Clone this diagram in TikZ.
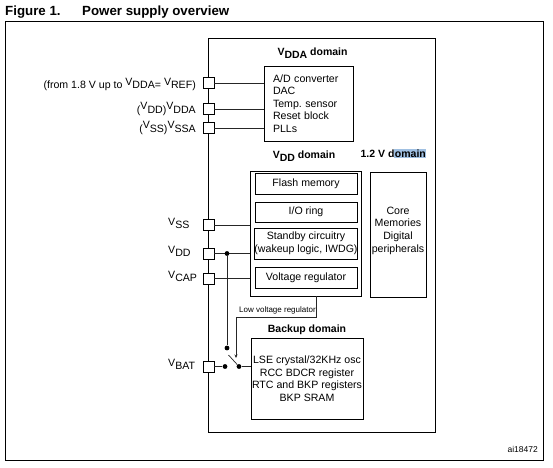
\documentclass[tikz,border=0pt]{standalone}
\usepackage{fontspec}
\setmainfont{Liberation Sans}
\usetikzlibrary{arrows.meta,calc}
\definecolor{hlblue}{RGB}{160,192,226}
\newcommand{\vsub}[1]{V\raisebox{-0.3em}{#1}}
\newcommand{\vup}[1]{\raisebox{0.3em}{V}#1}
\frenchspacing

\begin{document}
\begin{tikzpicture}[x=1pt,y=-1pt,
    blk/.style={draw, line width=0.9pt, inner sep=0pt, font=\fontsize{10.6}{12.6}\selectfont},
    pad/.style={draw, fill=white, line width=0.9pt, minimum size=11pt, inner sep=0pt},
    wire/.style={line width=0.7pt, black!85},
    dom/.style={inner sep=0pt, font=\bfseries\fontsize{10.5}{12.6}\selectfont},
    pin/.style={inner sep=0pt, font=\fontsize{10.6}{12.6}\selectfont},
    dot/.style={circle, fill, inner sep=0pt, minimum size=4.8pt}]
    \useasboundingbox (0,0) rectangle (553,467);

    % title and frame
    \node[anchor=west, inner sep=0pt, font=\bfseries\fontsize{13.3}{16}\selectfont] (fig) at (5,12) {Figure 1.};
    \node[anchor=west, inner sep=0pt, font=\bfseries\fontsize{13.3}{16}\selectfont] (title) at (82,12) {Power supply overview};
    \draw[line width=1pt] (5,21) rectangle (543,460);
    \node[anchor=east, inner sep=0pt, font=\fontsize{8.5}{10}\selectfont] (ref) at (538,449) {ai18472};

    % chip and domains
    \node[blk, minimum width=227, minimum height=394] (chip) at (321.5,235) {};
    \node[dom] (vddalbl) at (312.5,53.5) {\vsub{DDA} domain};
    \node[blk, minimum width=89, minimum height=75, text width=71, align=left] (vdda) at (308.5,103.5)
        {A/D converter\\DAC\\Temp. sensor\\Reset block\\PLLs};
    \node[dom] (vddlbl) at (304,156) {\vsub{DD} domain};
    \node[dom] (corelbl) at (393.5,153.5) {1.2 V d{\setlength{\fboxsep}{0.5pt}\colorbox{hlblue}{\vphantom{d}omain}}};
    \node[blk, minimum width=111, minimum height=125] (vddbox) at (305.5,233.5) {};
    \node[blk, minimum width=102, minimum height=21] (flash) at (306,183.5) {Flash memory};
    \node[blk, minimum width=102, minimum height=20] (ioring) at (306,212) {I/O ring};
    \node[blk, minimum width=102, minimum height=31, align=center] (standby) at (306,243.5)
        {Standby circuitry\\(wakeup logic, IWDG)};
    \node[blk, minimum width=102, minimum height=21] (vreg) at (306,277.5) {Voltage regulator};
    \node[blk, minimum width=56, minimum height=125] (core) at (398,234.5) {};
    \node[pin, align=center] (coretxt) at ([yshift=4pt]core.center) {Core\\Memories\\Digital\\peripherals};
    \node[dom] (backlbl) at (307,329.5) {Backup domain};
    \node[blk, minimum width=112, minimum height=81, align=center] (backup) at (307,378.5)
        {LSE crystal/32KHz osc\\RCC BDCR register\\RTC and BKP registers\\BKP SRAM};

    % pads
    \node[pad] (pref) at (208.5,83) {};
    \node[pad] (pdda) at (208.5,109) {};
    \node[pad] (pssa) at (208.5,128) {};
    \node[pad] (pss) at (208.5,225) {};
    \node[pad] (pdd) at (208.5,253.5) {};
    \node[pad] (pcap) at (208.5,278.5) {};
    \node[pad] (pbat) at (208.5,366.5) {};

    \node[pin, anchor=east] (lref) at (196,84.5) {(from 1.8 V up to \vup{DDA}= \vup{REF})};
    \node[pin, anchor=east] (ldda) at (196,109) {(\vup{DD})\vup{DDA}};
    \node[pin, anchor=east] (lssa) at (196,128) {(\vup{SS})\vup{SSA}};
    \node[pin, anchor=west] (lss) at (168,223) {\vup{SS}};
    \node[pin, anchor=west] (ldd) at (168,251.5) {\vup{DD}};
    \node[pin, anchor=west] (lcap) at (168,276.5) {\vup{CAP}};
    \node[pin, anchor=west] (lbat) at (168,364.5) {\vup{BAT}};

    % wiring
    \draw[wire] (pref.east) -- (pref.east -| vdda.west);
    \draw[wire] (pdda.east) -- (pdda.east -| vdda.west);
    \draw[wire] (pssa.east) -- (pssa.east -| vdda.west);
    \draw[wire] (pss.east) -- (pss.east -| vddbox.west);
    \draw[wire] (pdd.east) -- (pdd.east -| vddbox.west);
    \draw[wire] (pcap.east) -- (pcap.east -| vddbox.west);

    \node[dot] (jdd) at (227,253.5) {};
    \node[dot] (swup) at (227,348) {};
    \node[dot] (swin) at (225,366.5) {};
    \node[dot] (swout) at (239,366.5) {};
    \coordinate (blade) at (228.5,355);
    \draw[wire] (jdd) -- (swup);
    \draw[wire] (pbat.east) -- (swin);
    \draw[wire] (swout) -- (swout -| backup.west);
    \draw[wire] (swout) -- (blade);

    % low voltage regulator feed
    \coordinate (lvbend) at (316,317);
    \coordinate (lvend) at (236,358);
    \draw[wire, -{Stealth[length=3.5pt,width=3pt]}] (vddbox.south -| lvbend) -- (lvbend) -- (lvbend -| lvend) -- (lvend);
    \node[anchor=west, inner sep=0pt, font=\fontsize{8}{9.6}\selectfont] (lvlbl) at (239,310.5) {Low voltage regulator};
\end{tikzpicture}
\end{document}
